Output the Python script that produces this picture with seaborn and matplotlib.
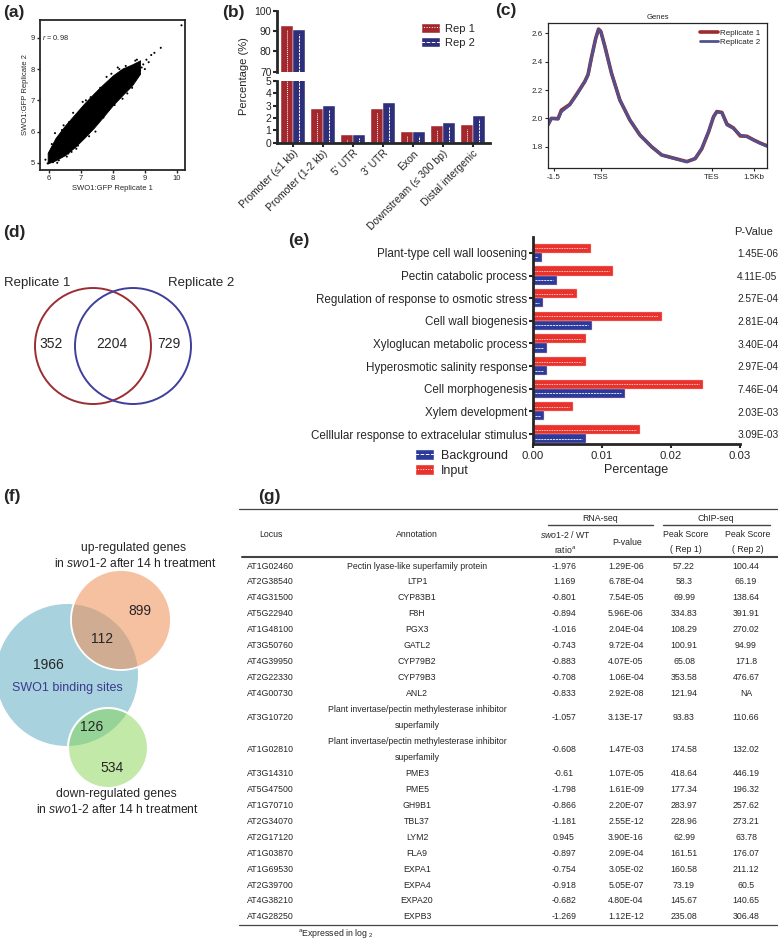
import numpy as np
import pandas as pd
import matplotlib.pyplot as plt
import seaborn as sns
from matplotlib.patches import Patch, Circle
from matplotlib.lines import Line2D
from matplotlib.ticker import FormatStrFormatter

# ── style ────────────────────────────────────────────────────
sns.set_style('ticks')
plt.rcParams['font.family'] = ['Liberation Sans', 'DejaVu Sans']
plt.rcParams['mathtext.fontset'] = 'custom'
plt.rcParams['mathtext.rm'] = 'Liberation Sans'
plt.rcParams['mathtext.it'] = 'Liberation Sans:italic'
plt.rcParams['mathtext.bf'] = 'Liberation Sans:bold'

W, H = 778, 939


def rect(x0, y0, x1, y1):
    # pixel box -> figure fraction
    return [x0 / W, 1 - y1 / H, (x1 - x0) / W, (y1 - y0) / H]


def fxy(x, y):
    return x / W, 1 - y / H


# ── DATA ─────────────────────────────────────────────────────
# (a) replicate correlation: dense cloud envelope + sparse points
a_env_x = [5.95, 6.2, 6.5, 6.8, 7.1, 7.4, 7.7, 8.0, 8.3, 8.6, 8.85]
a_env_lo = [4.98, 5.08, 5.25, 5.5, 5.8, 6.12, 6.48, 6.85, 7.17, 7.48, 7.85]
a_env_hi = [5.32, 5.8, 6.2, 6.55, 6.9, 7.22, 7.52, 7.8, 8.02, 8.15, 8.28]
a_pts_x = [5.88, 5.95, 6.05, 6.12, 6.22, 6.3, 6.18, 6.45, 6.6, 6.75, 6.9, 7.05,
           7.25, 7.45, 7.6, 7.8, 8.05, 8.2, 8.45, 8.7, 8.85, 8.95, 9.05, 9.12,
           9.2, 9.3, 9.5, 10.15, 6.35, 6.55, 7.15, 7.7, 8.3, 8.6,
           6.08, 6.4, 6.62, 6.85, 7.0, 7.3, 7.55, 7.9, 8.15, 8.5, 8.75, 9.0,
           6.25, 6.7, 7.35, 7.95, 8.4, 8.9]
a_pts_y = [5.1, 4.98, 5.32, 5.02, 5.45, 5.08, 5.95, 6.2, 5.3, 6.6, 5.55, 6.95,
           5.85, 6.0, 7.4, 7.75, 6.85, 8.0, 7.22, 8.27, 7.95, 8.15, 8.3, 8.22,
           8.45, 8.52, 8.68, 9.4, 5.85, 5.2, 7.0, 6.45, 7.05, 7.4,
           5.6, 6.05, 6.3, 5.45, 5.75, 7.1, 7.3, 6.8, 8.05, 7.4, 8.3, 8.0,
           5.0, 5.35, 6.15, 7.85, 8.1, 8.05]
a_r = 0.98

# (b) genomic distribution of peaks
b_regions = ['Promoter (≤1 kb)', 'Promoter (1-2 kb)', "5' UTR", "3' UTR", 'Exon',
             'Downstream (≤ 300 bp)', 'Distal intergenic']
b_rep1 = [92.3, 2.7, 0.6, 2.75, 0.85, 1.35, 1.45]
b_rep2 = [90.5, 2.95, 0.65, 3.2, 0.85, 1.6, 2.2]

# (c) metagene profile (x = % of plotted region)
c_x = [0, 1.5, 4.6, 6.1, 9.9, 13, 16.8, 18.3, 19.8, 21.8, 23.1, 24.1, 26, 29,
       32.8, 37.4, 42, 47.3, 51.9, 57.3, 63.4, 67.2, 70.2, 73.3, 75.6, 77.1,
       79.4, 81.7, 84.7, 87.8, 90.8, 93.9, 96.9, 100]
c_rep1 = [1.955, 2.0, 1.998, 2.058, 2.098, 2.168, 2.26, 2.31, 2.426, 2.566, 2.63,
          2.614, 2.506, 2.318, 2.13, 1.988, 1.882, 1.8, 1.742, 1.72, 1.695, 1.716,
          1.785, 1.904, 2.012, 2.048, 2.042, 1.96, 1.932, 1.876, 1.874, 1.848,
          1.826, 1.806]
c_rep2 = [1.953, 2.0, 1.995, 2.047, 2.094, 2.165, 2.259, 2.306, 2.424, 2.565, 2.628,
          2.612, 2.506, 2.318, 2.129, 1.988, 1.882, 1.8, 1.741, 1.718, 1.694, 1.718,
          1.788, 1.906, 2.012, 2.047, 2.04, 1.953, 1.929, 1.882, 1.871, 1.847,
          1.824, 1.805]
c_ticks = ['-1.5', 'TSS', 'TES', '1.5Kb']

# (d) replicate overlap
d_sets = ['Replicate 1', 'Replicate 2']
d_counts = [352, 2204, 729]   # rep1 only, both, rep2 only

# (e) GO enrichment
e_terms = ['Plant-type cell wall loosening', 'Pectin catabolic process',
           'Regulation of response to osmotic stress', 'Cell wall biogenesis',
           'Xyloglucan metabolic process', 'Hyperosmotic salinity response',
           'Cell morphogenesis', 'Xylem development',
           'Celllular response to extracelular stimulus']
e_input = [0.0084, 0.0116, 0.0064, 0.0187, 0.0077, 0.0077, 0.0246, 0.0058, 0.0155]
e_background = [0.0013, 0.0035, 0.0015, 0.0086, 0.0021, 0.0021, 0.0134, 0.0016, 0.0077]
e_pvalues = [1.45e-06, 4.11e-05, 2.57e-04, 2.81e-04, 3.40e-04, 2.97e-04,
             7.46e-04, 2.03e-03, 3.09e-03]

# (f) overlap with DEGs
f_binding_only = 1966
f_up_only = 899
f_up_binding = 112
f_down_binding = 126
f_down_only = 534

# (g) table
g_locus = ['AT1G02460', 'AT2G38540', 'AT4G31500', 'AT5G22940', 'AT1G48100',
           'AT3G50760', 'AT4G39950', 'AT2G22330', 'AT4G00730', 'AT3G10720',
           'AT1G02810', 'AT3G14310', 'AT5G47500', 'AT1G70710', 'AT2G34070',
           'AT2G17120', 'AT1G03870', 'AT1G69530', 'AT2G39700', 'AT4G38210',
           'AT4G28250']
g_annot = ['Pectin lyase-like superfamily protein', 'LTP1', 'CYP83B1', 'F8H', 'PGX3',
           'GATL2', 'CYP79B2', 'CYP79B3', 'ANL2',
           'Plant invertase/pectin methylesterase inhibitor\nsuperfamily',
           'Plant invertase/pectin methylesterase inhibitor\nsuperfamily',
           'PME3', 'PME5', 'GH9B1', 'TBL37', 'LYM2', 'FLA9', 'EXPA1', 'EXPA4',
           'EXPA20', 'EXPB3']
g_ratio = [-1.976, 1.169, -0.801, -0.894, -1.016, -0.743, -0.883, -0.708, -0.833,
           -1.057, -0.608, -0.61, -1.798, -0.866, -1.181, 0.945, -0.897, -0.754,
           -0.918, -0.682, -1.269]
g_pval = [1.29e-06, 6.78e-04, 7.54e-05, 5.96e-06, 2.04e-04, 9.72e-04, 4.07e-05,
          1.06e-04, 2.92e-08, 3.13e-17, 1.47e-03, 1.07e-05, 1.61e-09, 2.20e-07,
          2.55e-12, 3.90e-16, 2.09e-04, 3.05e-02, 5.05e-07, 4.80e-04, 1.12e-12]
g_peak1 = [57.22, 58.3, 69.99, 334.83, 108.29, 100.91, 65.08, 353.58, 121.94, 93.83,
           174.58, 418.64, 177.34, 283.97, 228.96, 62.99, 161.51, 160.58, 73.19,
           145.67, 235.08]
g_peak2 = [100.44, 66.19, 138.64, 391.91, 270.02, 94.99, 171.8, 476.67, np.nan,
           110.66, 132.02, 446.19, 196.32, 257.62, 273.21, 63.78, 176.07, 211.12,
           60.5, 140.65, 306.48]

# ── FIGURE ───────────────────────────────────────────────────
fig = plt.figure(figsize=(W / 100, H / 100), dpi=100)


def plabel(s, x, y):
    fig.text(*fxy(x, y), s, fontsize=12.5, fontweight='bold', ha='left', va='center')


# ---- (a) scatter ----
ax = fig.add_axes(rect(40, 20, 185, 170))
ax.fill_between(a_env_x, a_env_lo, a_env_hi, color='black', lw=0.6, edgecolor='black')
sns.scatterplot(x=a_pts_x, y=a_pts_y, s=2.2, color='black', edgecolor='none', ax=ax)
ax.set_xlim(5.71, 10.26)
ax.set_ylim(4.77, 9.57)
ax.set_xticks([6, 7, 8, 9, 10])
ax.set_yticks([5, 6, 7, 8, 9])
ax.tick_params(labelsize=5.5, length=2.5, width=1, pad=1)
for s in ax.spines.values():
    s.set_linewidth(1.3)
ax.set_xlabel('SWO1:GFP Replicate 1', fontsize=5.5, labelpad=2)
ax.set_ylabel('SWO1:GFP Replicate 2', fontsize=5.5, labelpad=1)
ax.text(5.78, 9.0, r'$\it{r}$ = %.2f' % a_r, fontsize=5.3, va='center')
plabel('(a)', 3, 12)

# ---- (b) broken-axis bars ----
b_red, b_blue = '#A3282E', '#2E2F7A'
dfb = pd.DataFrame({'region': b_regions * 2, 'pct': b_rep1 + b_rep2,
                    'rep': ['Rep 1'] * len(b_regions) + ['Rep 2'] * len(b_regions)})
ax_bt = fig.add_axes(rect(277, 10.7, 490, 71.7))
ax_bb = fig.add_axes(rect(277, 81, 490, 142.7))
for axb, lim in ((ax_bt, (70, 100)), (ax_bb, (0, 5))):
    sns.barplot(data=dfb, x='region', y='pct', hue='rep', palette=[b_red, b_blue],
                width=0.8, saturation=1, legend=False, edgecolor='white',
                linewidth=0.3, ax=axb)
    axb.set_ylim(*lim)
    axb.set_xlim(-0.53, 6.57)
    span = lim[1] - lim[0]
    n = len(b_regions)
    for i, p in enumerate(axb.patches):
        xc = p.get_x() + p.get_width() / 2
        top = p.get_height() - 0.06 * span
        if top > lim[0]:
            axb.plot([xc, xc], [lim[0], top], color='white', lw=0.7,
                     ls=(0, (1, 1)) if i < n else (0, (2.5, 1)))
    axb.set_xlabel('')
    axb.set_ylabel('')
    axb.tick_params(labelsize=7.5, length=3, width=1.5, pad=1)
    for s in ('top', 'right'):
        axb.spines[s].set_visible(False)
    axb.spines['left'].set_linewidth(2)
    axb.spines['bottom'].set_linewidth(2)
ax_bt.spines['bottom'].set_visible(False)
ax_bt.set_xticks([])
ax_bt.set_yticks([70, 80, 90, 100])
ax_bb.set_yticks([0, 1, 2, 3, 4, 5])
ax_bb.set_xticks(range(len(b_regions)))
ax_bb.set_xticklabels(b_regions, rotation=45, ha='right', rotation_mode='anchor',
                      fontsize=7.5)
fig.text(*fxy(244, 76), 'Percentage (%)', rotation=90, fontsize=8,
         ha='center', va='center')
ax_bt.legend(handles=[(Patch(fc=b_red), Line2D([], [], color='white', lw=0.7, ls=':')),
                      (Patch(fc=b_blue), Line2D([], [], color='white', lw=0.7, ls='--'))],
             labels=['Rep 1', 'Rep 2'], loc='upper left',
             bbox_to_anchor=((421 - 277) / 213, (71.7 - 23) / 61), frameon=False,
             fontsize=8, handlelength=1.7, handleheight=1.0, handletextpad=0.5,
             labelspacing=0.3, borderpad=0, borderaxespad=0)
plabel('(b)', 222, 12)

# ---- (c) metagene profile ----
ax_c = fig.add_axes(rect(548, 22.7, 767, 168))
sns.lineplot(x=c_x, y=c_rep1, color='#9E2A2B', lw=2.6, ax=ax_c, label='Replicate 1')
sns.lineplot(x=c_x, y=c_rep2, color='#50528F', lw=2.0, ax=ax_c, label='Replicate 2')
ax_c.set_xlim(0, 100)
ax_c.set_ylim(1.65, 2.675)
ax_c.set_yticks([1.8, 2.0, 2.2, 2.4, 2.6])
ax_c.set_xticks([2.7, 24.1, 74.8, 93.9])
ax_c.set_xticklabels(c_ticks)
ax_c.tick_params(labelsize=5.8, length=2, width=0.8, pad=2)
for s in ax_c.spines.values():
    s.set_linewidth(0.9)
ax_c.set_title('Genes', fontsize=5.5, pad=3)
ax_c.legend(loc='upper right', fontsize=5.8, frameon=False, handlelength=2.2,
            handletextpad=0.3, labelspacing=0.2, borderaxespad=0.4)
plabel('(c)', 495, 11)

# ---- (d) replicate Venn ----
ax_d = fig.add_axes(rect(0, 270, 240, 420))
ax_d.set_xlim(0, 240)
ax_d.set_ylim(420, 270)
ax_d.axis('off')
ax_d.add_patch(Circle((93, 346), 58, fill=False, ec='#9B2E33', lw=1.4))
ax_d.add_patch(Circle((133, 346), 58, fill=False, ec='#3F3F9C', lw=1.4))
for xx, c in zip([51, 112, 169], d_counts):
    ax_d.text(xx, 344, str(c), fontsize=10, ha='center', va='center')
ax_d.text(37, 283, d_sets[0], fontsize=9.5, ha='center', va='center')
ax_d.text(201, 283, d_sets[1], fontsize=9.5, ha='center', va='center')
plabel('(d)', 3, 232)

# ---- (e) GO bars ----
e_red, e_blue = '#E8322B', '#2C3A9C'
ax_e = fig.add_axes(rect(533, 237, 740, 444))
dfe = pd.DataFrame({'term': e_terms * 2, 'pct': e_input + e_background,
                    'set': ['Input'] * len(e_terms) + ['Background'] * len(e_terms)})
sns.barplot(data=dfe, y='term', x='pct', hue='set', hue_order=['Input', 'Background'],
            palette=[e_red, e_blue], orient='h', width=0.8, saturation=1,
            legend=False, edgecolor='#f3b0ad', linewidth=0.3, ax=ax_e)
ne = len(e_terms)
for i, p in enumerate(ax_e.patches):
    yc = p.get_y() + p.get_height() / 2
    w = p.get_width()
    ax_e.plot([0.0003, w - 0.0006], [yc, yc], color='white', lw=0.6,
              ls=(0, (1, 1)) if i < ne else (0, (2.5, 1)))
ax_e.set_xlim(0, 0.03)
ax_e.set_ylim(8.44, -0.7)
ax_e.set_xticks([0, 0.01, 0.02, 0.03])
ax_e.xaxis.set_major_formatter(FormatStrFormatter('%.2f'))
ax_e.tick_params(axis='y', labelsize=8.4, length=3, width=1.5, pad=1)
ax_e.tick_params(axis='x', labelsize=8.2, length=3, width=1.5, pad=2)
for s in ('top', 'right'):
    ax_e.spines[s].set_visible(False)
ax_e.spines['left'].set_linewidth(2)
ax_e.spines['bottom'].set_linewidth(2)
ax_e.set_ylabel('')
ax_e.set_xlabel('Percentage', fontsize=9, labelpad=2)
ax_e.text(0.0291, -0.93, 'P-Value', fontsize=8, ha='left', va='center', clip_on=False)
for i, pv in enumerate(e_pvalues):
    ax_e.text(0.0296, i + 0.05, '%.2E' % pv, fontsize=7.3, ha='left', va='center',
              clip_on=False)
fig.legend(handles=[(Patch(fc=e_blue), Line2D([], [], color='white', lw=0.7, ls='--')),
                    (Patch(fc=e_red), Line2D([], [], color='white', lw=0.7, ls=':'))],
           labels=['Background', 'Input'], loc='upper left',
           bbox_to_anchor=fxy(415, 449), frameon=False, fontsize=9,
           handlelength=1.5, handleheight=1.0, handletextpad=0.6,
           labelspacing=0.15, borderpad=0, borderaxespad=0)
plabel('(e)', 288, 240)

# ---- (f) DEG Venn ----
ax_f = fig.add_axes(rect(0, 530, 240, 830))
ax_f.set_xlim(0, 240)
ax_f.set_ylim(830, 530)
ax_f.axis('off')
ax_f.add_patch(Circle((67, 675), 71, fc='#A8D2DD', ec='none'))
ax_f.add_patch(Circle((121, 620), 50, fc='#F08E55', alpha=0.55, ec='none'))
ax_f.add_patch(Circle((121, 620), 50, fill=False, ec='white', lw=1.3))
ax_f.add_patch(Circle((108, 748), 40, fc='#86D452', alpha=0.5, ec='none'))
ax_f.add_patch(Circle((108, 748), 40, fill=False, ec='white', lw=1.5))
ax_f.text(140, 611, str(f_up_only), fontsize=10, ha='center', va='center')
ax_f.text(102, 639, str(f_up_binding), fontsize=10, ha='center', va='center')
ax_f.text(48, 665, str(f_binding_only), fontsize=10, ha='center', va='center')
ax_f.text(67, 688, 'SWO1 binding sites', fontsize=9, color='#3B3A8E',
          ha='center', va='center')
ax_f.text(92, 727, str(f_down_binding), fontsize=10, ha='center', va='center')
ax_f.text(112, 768, str(f_down_only), fontsize=10, ha='center', va='center')
ax_f.text(134, 548, 'up-regulated genes', fontsize=8.7, ha='center', va='center')
ax_f.text(135, 564, r'in $\it{swo1}$-$\it{2}$ after 14 h treatment', fontsize=8.7,
          ha='center', va='center')
ax_f.text(116, 794, 'down-regulated genes', fontsize=8.7, ha='center', va='center')
ax_f.text(117, 810, r'in $\it{swo1}$-$\it{2}$ after 14 h treatment', fontsize=8.7,
          ha='center', va='center')
plabel('(f)', 3, 497)

# ---- (g) table ----
ax_g = fig.add_axes(rect(239, 500, 778, 939))
ax_g.set_xlim(239, 778)
ax_g.set_ylim(939, 500)
ax_g.axis('off')
tfs = 6.3
ax_g.plot([239, 778], [509, 509], color='#444444', lw=0.9)
ax_g.plot([548, 653], [525, 525], color='#444444', lw=1.0)
ax_g.plot([663, 770], [525, 525], color='#444444', lw=1.0)
ax_g.plot([242, 778], [557, 557], color='#444444', lw=1.5)
ax_g.plot([239, 778], [925, 925], color='#444444', lw=0.9)
hdr = dict(fontsize=tfs, ha='center', va='center')
ax_g.text(600, 518, 'RNA-seq', **hdr)
ax_g.text(716, 518, 'ChIP-seq', **hdr)
ax_g.text(271, 534, 'Locus', **hdr)
ax_g.text(417, 534, 'Annotation', **hdr)
ax_g.text(565, 534, r'$\it{swo1}$-$\it{2}$ / WT', **hdr)
ax_g.text(565, 549, r'ratio$^{a}$', **hdr)
ax_g.text(627, 542, 'P-value', **hdr)
ax_g.text(686, 534, 'Peak Score', **hdr)
ax_g.text(686, 549, '( Rep 1)', **hdr)
ax_g.text(748, 534, 'Peak Score', **hdr)
ax_g.text(748, 549, '( Rep 2)', **hdr)

unit = 15.95
ytop = 566 - unit / 2
for loc, ann, rat, pv, p1, p2 in zip(g_locus, g_annot, g_ratio, g_pval, g_peak1, g_peak2):
    h = 2 if '\n' in ann else 1
    yc = ytop + h * unit / 2
    ax_g.text(247, yc, loc, fontsize=tfs, ha='left', va='center')
    ax_g.text(417, yc, ann, fontsize=tfs, ha='center', va='center', linespacing=2.1)
    ax_g.text(564, yc, str(rat), fontsize=tfs, ha='center', va='center')
    ax_g.text(626, yc, '%.2E' % pv, fontsize=tfs, ha='center', va='center')
    ax_g.text(684, yc, str(p1), fontsize=tfs, ha='center', va='center')
    ax_g.text(746, yc, 'NA' if np.isnan(p2) else str(p2), fontsize=tfs,
              ha='center', va='center')
    ytop += h * unit
ax_g.text(298, 933, r'$^{a}$Expressed in log $_{2}$', fontsize=tfs,
          ha='left', va='center')
plabel('(g)', 258, 497)

plt.savefig('out.png', dpi=100)
